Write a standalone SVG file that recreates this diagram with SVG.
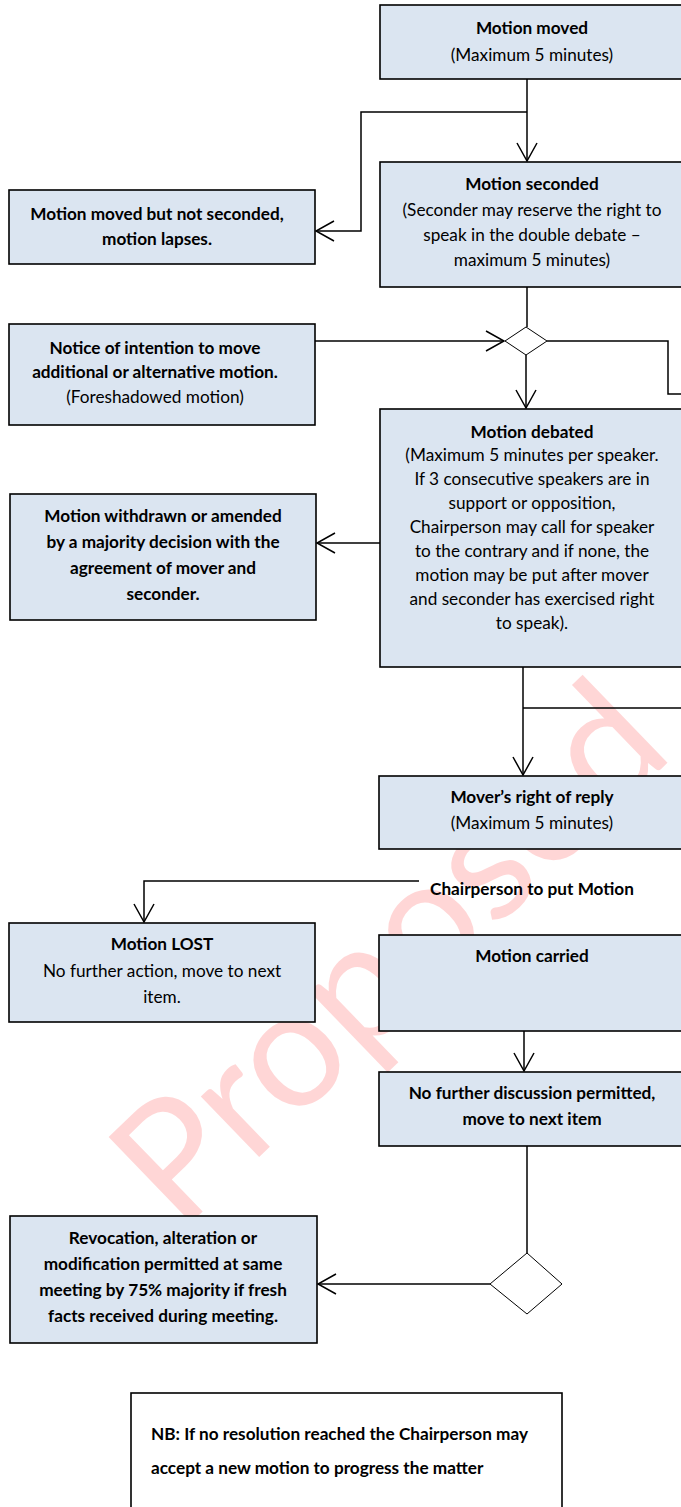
<svg xmlns="http://www.w3.org/2000/svg" width="681" height="1507" viewBox="0 0 681 1507">
<style>
.box{fill:#DBE5F1;stroke:#000;stroke-width:1.6}
.nb{fill:#fff;stroke:#000;stroke-width:1.6}
.dia{fill:#fff;stroke:#000;stroke-width:1}
.ln{fill:none;stroke:#000;stroke-width:1.5}
text{font-family:Lato,"Liberation Sans",sans-serif;font-size:17.2px;fill:#000;text-anchor:middle}
.b{font-weight:bold}
.wm{font-family:Lato,"Liberation Sans",sans-serif;font-size:166px;fill:#ff0000;fill-opacity:0.16;text-anchor:middle}
</style>
<defs>
<marker id="ah" viewBox="-20 -12 22 24" refX="0" refY="0" markerWidth="22" markerHeight="24" markerUnits="userSpaceOnUse" orient="auto">
<path d="M-18,-10 L0,0 L-18,10" fill="none" stroke="#000" stroke-width="1.5"/>
</marker>
</defs>
<rect width="681" height="1507" fill="#fff"/>
<text class="wm" x="428" y="994" transform="rotate(-44 428 994)">Proposed</text>

<g id="connectors">
<path class="ln" d="M527,79 V161" marker-end="url(#ah)"/>
<path class="ln" d="M527,112 H361 V231 H316" marker-end="url(#ah)"/>
<path class="ln" d="M527,287 V327"/>
<path class="ln" d="M315,341 H504" marker-end="url(#ah)"/>
<path class="ln" d="M547,341 H668 V394 H690"/>
<path class="ln" d="M526,355 V408" marker-end="url(#ah)"/>
<path class="ln" d="M380,543 H317" marker-end="url(#ah)"/>
<path class="ln" d="M523,667 V775" marker-end="url(#ah)"/>
<path class="ln" d="M523,708 H690"/>
<path class="ln" d="M419,881 H144 V922" marker-end="url(#ah)"/>
<path class="ln" d="M524,1011 V1071" marker-end="url(#ah)"/>
<path class="ln" d="M527,1146 V1253"/>
<path class="ln" d="M490,1284 H318" marker-end="url(#ah)"/>
</g>

<g id="n-moved">
<rect class="box" x="380" y="5" width="303" height="74"/>
<text class="b" x="532" y="34">Motion moved</text>
<text x="532" y="61">(Maximum 5 minutes)</text>
</g>
<g id="n-seconded">
<rect class="box" x="380" y="162" width="303" height="125"/>
<text class="b" x="532" y="190">Motion seconded</text>
<text x="532" y="216">(Seconder may reserve the right to</text>
<text x="532" y="241">speak in the double debate –</text>
<text x="532" y="266">maximum 5 minutes)</text>
</g>
<g id="n-lapses">
<rect class="box" x="9" y="190" width="306" height="74"/>
<text class="b" x="157" y="220">Motion moved but not seconded,</text>
<text class="b" x="157" y="245">motion lapses.</text>
</g>
<g id="n-notice">
<rect class="box" x="9" y="324" width="306" height="101"/>
<text class="b" x="155" y="354">Notice of intention to move</text>
<text class="b" x="155" y="378">additional or alternative motion.</text>
<text x="155" y="403">(Foreshadowed motion)</text>
</g>
<g id="n-split">
<polygon class="dia" points="526,327 547,341 526,355 505,341"/>
</g>
<g id="n-debated">
<rect class="box" x="380" y="409" width="303" height="258"/>
<text class="b" x="532" y="438">Motion debated</text>
<text x="532" y="461">(Maximum 5 minutes per speaker.</text>
<text x="532" y="485">If 3 consecutive speakers are in</text>
<text x="532" y="509">support or opposition,</text>
<text x="532" y="533">Chairperson may call for speaker</text>
<text x="532" y="557">to the contrary and if none, the</text>
<text x="532" y="581">motion may be put after mover</text>
<text x="532" y="605">and seconder has exercised right</text>
<text x="532" y="629">to speak).</text>
</g>
<g id="n-withdrawn">
<rect class="box" x="10" y="494" width="306" height="126"/>
<text class="b" x="163" y="522">Motion withdrawn or amended</text>
<text class="b" x="163" y="548">by a majority decision with the</text>
<text class="b" x="163" y="574">agreement of mover and</text>
<text class="b" x="163" y="600">seconder.</text>
</g>
<g id="n-reply">
<rect class="box" x="379" y="776" width="304" height="73"/>
<text class="b" x="532" y="803">Mover’s right of reply</text>
<text x="532" y="829">(Maximum 5 minutes)</text>
</g>
<g id="l-put">
<text class="b" x="532" y="895">Chairperson to put Motion</text>
</g>
<g id="n-lost">
<rect class="box" x="9" y="923" width="306" height="99"/>
<text class="b" x="162" y="950">Motion LOST</text>
<text x="162" y="977">No further action, move to next</text>
<text x="162" y="1003">item.</text>
</g>
<g id="n-carried">
<rect class="box" x="379" y="935" width="304" height="96"/>
<text class="b" x="532" y="962">Motion carried</text>
</g>
<g id="n-nofurther">
<rect class="box" x="379" y="1072" width="304" height="74"/>
<text class="b" x="532" y="1099">No further discussion permitted,</text>
<text class="b" x="532" y="1125">move to next item</text>
</g>
<g id="n-split2">
<polygon class="dia" points="527,1253 562,1284 527,1314 490,1284"/>
</g>
<g id="n-revocation">
<rect class="box" x="10" y="1216" width="307" height="127"/>
<text class="b" x="163" y="1244">Revocation, alteration or</text>
<text class="b" x="163" y="1270">modification permitted at same</text>
<text class="b" x="163" y="1296">meeting by 75% majority if fresh</text>
<text class="b" x="163" y="1322">facts received during meeting.</text>
</g>
<g id="n-nb">
<rect class="nb" x="131" y="1393" width="431" height="130"/>
<text class="b" x="151" y="1440" style="text-anchor:start">NB: If no resolution reached the Chairperson may</text>
<text class="b" x="151" y="1474" style="text-anchor:start">accept a new motion to progress the matter</text>
</g>
</svg>
